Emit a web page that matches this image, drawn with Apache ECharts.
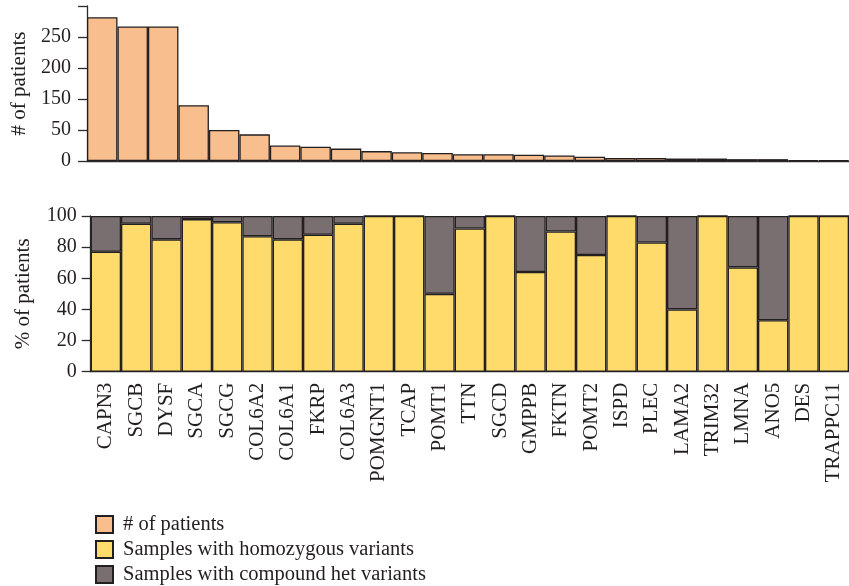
<!DOCTYPE html>
<html>
<head>
<meta charset="utf-8">
<script src="https://cdn.jsdelivr.net/npm/echarts@6/dist/echarts.min.js"></script>
<style>html,body{margin:0;padding:0;background:#fff;}#c{width:849px;height:586px;}</style>
</head>
<body>
<div id="c"></div>
<script>
var genes = ['CAPN3','SGCB','DYSF','SGCA','SGCG','COL6A2','COL6A1','FKRP','COL6A3','POMGNT1','TCAP','POMT1','TTN','SGCD','GMPPB','FKTN','POMT2','ISPD','PLEC','LAMA2','TRIM32','LMNA','ANO5','DES','TRAPPC11'];
var patients = [232,217,217,90,50,43,25,23,20,16,14,13,11,11,10,9,7,5,5,4,4,3,3,1,1];
var homozygous = [77,95,85,98,96,87,85,88,95,100,100,50,92,100,64,90,75,100,83,40,100,67,33,100,100];
var compoundHet = [23,5,15,2,4,13,15,12,5,0,0,50,8,0,36,10,25,0,17,60,0,33,67,0,0];
var countTickLabels = ['0','50','150','200','250',''];
var pctTickLabels = ['0','20','40','60','80','100'];
var seriesNames = ['# of patients','Samples with homozygous variants','Samples with compound het variants'];

var FONT = 'Liberation Serif';
var TXT = '#231f20';
var AX = '#2b2b2b';
var chart = echarts.init(document.getElementById('c'), null, {renderer:'canvas'});
var barBorder = {borderColor:'#231f20', borderWidth:1.3};
function legendFor(i){
  return {orient:'vertical', left:90, top:509 + i*25, itemWidth:17, itemHeight:17, icon:'rect',
    textStyle:{fontFamily:FONT, fontSize:20.5, color:TXT, padding:[0,0,0,5]},
    data:[seriesNames[i]]};
}
chart.setOption({
  animation:false,
  textStyle:{fontFamily:FONT},
  legend:[legendFor(0), legendFor(1), legendFor(2)],
  grid:[
    {left:87, right:-5, top:6, height:155},
    {left:90.7, right:-2, top:216, height:155.7}
  ],
  xAxis:[
    {type:'category', gridIndex:0, data:genes, axisLine:{lineStyle:{color:AX,width:1.3}}, axisTick:{show:false}, axisLabel:{show:false}},
    {type:'category', gridIndex:1, data:genes, axisLine:{lineStyle:{color:AX,width:1.3}}, axisTick:{show:false},
     axisLabel:{rotate:90, interval:0, margin:11, fontFamily:FONT, fontSize:21, color:TXT}}
  ],
  yAxis:[
    {type:'value', gridIndex:0, min:0, max:250, interval:50, splitLine:{show:false},
     axisLine:{show:true, lineStyle:{color:AX,width:1.3}}, axisTick:{show:true, length:9, lineStyle:{color:AX,width:1.3}},
     axisLabel:{margin:16, fontFamily:FONT, fontSize:20, color:TXT, formatter:function(v){return countTickLabels[Math.round(v/50)];}},
     name:seriesNames[0], nameLocation:'middle', nameGap:57, nameTextStyle:{fontFamily:FONT, fontSize:21, color:TXT}},
    {type:'value', gridIndex:1, min:0, max:100, interval:20, splitLine:{show:false},
     axisLine:{show:true, lineStyle:{color:AX,width:1.3}}, axisTick:{show:true, length:9, lineStyle:{color:AX,width:1.3}},
     axisLabel:{margin:14, fontFamily:FONT, fontSize:20, color:TXT, formatter:function(v){return pctTickLabels[Math.round(v/20)];}},
     name:'% of patients', nameLocation:'middle', nameGap:57, nameTextStyle:{fontFamily:FONT, fontSize:21, color:TXT}}
  ],
  series:[
    {name:seriesNames[0], type:'bar', xAxisIndex:0, yAxisIndex:0, data:patients, barCategoryGap:'0%',
     itemStyle:Object.assign({color:'#f9be8e'}, barBorder)},
    {name:seriesNames[1], type:'bar', xAxisIndex:1, yAxisIndex:1, stack:'pct', data:homozygous, barCategoryGap:'0%',
     itemStyle:Object.assign({color:'#fedb6b'}, barBorder)},
    {name:seriesNames[2], type:'bar', xAxisIndex:1, yAxisIndex:1, stack:'pct', data:compoundHet, barCategoryGap:'0%',
     itemStyle:Object.assign({color:'#7a6f70'}, barBorder)}
  ]
});
</script>
</body>
</html>
